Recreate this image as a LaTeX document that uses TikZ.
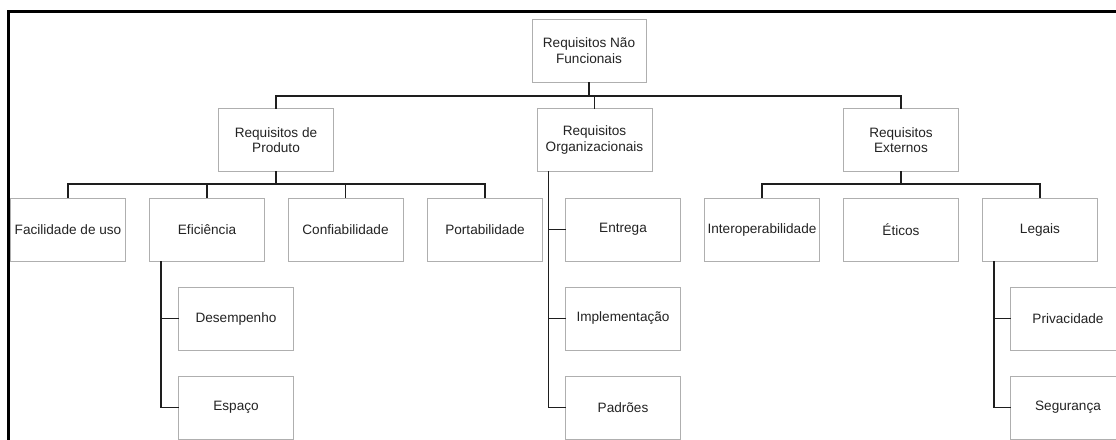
\documentclass[tikz,border=0pt]{standalone}
\usepackage{fontspec}
\setmainfont{Liberation Sans}
\definecolor{boxline}{RGB}{175,175,175}
\definecolor{wire}{RGB}{30,30,30}
\definecolor{ink}{RGB}{35,35,35}
\begin{document}
\begin{tikzpicture}[x=1pt,y=-1pt,
  reqbox/.style={draw=boxline,line width=0.9pt,fill=white,rectangle,
    minimum width=115pt,minimum height=63pt,inner sep=0pt,align=center,
    text=ink,font=\fontsize{13.6}{15.7}\selectfont},
  link/.style={draw=wire,line width=1.7pt,line cap=rect}]
\useasboundingbox (0,0) rectangle (1116,439);
\clip (0,0) rectangle (1116,439);

% frame along the top and left edges
\draw[line width=3pt,black] (8,460) -- (8,11) -- (1140,11);

% root
\node[reqbox,minimum width=114pt] (root) at (589,50.5) {Requisitos Não\\Funcionais};

% second level
\node[reqbox] (prod) at (276,140) {Requisitos de\\Produto};
\node[reqbox] (org)  at (594.5,140) {Requisitos\\Organizacionais};
\node[reqbox] (ext)  at (901,140) {Requisitos\\Externos};

% product requirements
\node[reqbox] (facil) at (68,229.5)  {Facilidade de uso};
\node[reqbox] (efic)  at (207,229.5) {Eficiência};
\node[reqbox] (conf)  at (345.5,229.5) {Confiabilidade};
\node[reqbox] (port)  at (485,229.5) {Portabilidade};
\node[reqbox] (desemp) at (236,318.5) {Desempenho};
\node[reqbox] (espaco) at (236,407.5) {Espaço};

% organizational requirements
\node[reqbox] (entrega) at (623,229.5) {Entrega};
\node[reqbox] (impl)    at (623,318.5) {Implementação};
\node[reqbox] (padr)    at (623,407.5) {Padrões};

% external requirements
\node[reqbox] (inter)  at (762,229.5)  {Interoperabilidade};
\node[reqbox] (eticos) at (901,229.5)  {Éticos};
\node[reqbox] (legais) at (1040,229.5) {Legais};
\node[reqbox] (priv)   at (1068,318.5) {Privacidade};
\node[reqbox] (segur)  at (1068,407.5) {Segurança};

% buses
\coordinate (bus1) at (0,96);
\coordinate (bus2) at (0,184);

% root to second level
\draw[link] (root.south) -- (root.south |- bus1);
\draw[link] (prod.north) -- (prod.north |- bus1) -- (ext.north |- bus1) -- (ext.north);
\draw[link] (org.north) -- (org.north |- bus1);

% product branch
\draw[link] (prod.south) -- (prod.south |- bus2);
\draw[link] (facil.north) -- (facil.north |- bus2) -- (port.north |- bus2) -- (port.north);
\draw[link] (efic.north) -- (efic.north |- bus2);
\draw[link] (conf.north) -- (conf.north |- bus2);
\coordinate (eficrail) at ([xshift=12pt]efic.south west);
\draw[link] (eficrail) -- (eficrail |- espaco.west) -- (espaco.west);
\draw[link] (eficrail |- desemp.west) -- (desemp.west);

% organizational branch
\coordinate (orgrail) at ([xshift=12pt]org.south west);
\draw[link] (orgrail) -- (orgrail |- padr.west) -- (padr.west);
\draw[link] (orgrail |- entrega.west) -- (entrega.west);
\draw[link] (orgrail |- impl.west) -- (impl.west);

% external branch
\draw[link] (ext.south) -- (ext.south |- bus2);
\draw[link] (inter.north) -- (inter.north |- bus2) -- (legais.north |- bus2) -- (legais.north);
\coordinate (legrail) at ([xshift=12pt]legais.south west);
\draw[link] (legrail) -- (legrail |- segur.west) -- (segur.west);
\draw[link] (legrail |- priv.west) -- (priv.west);
\end{tikzpicture}
\end{document}
